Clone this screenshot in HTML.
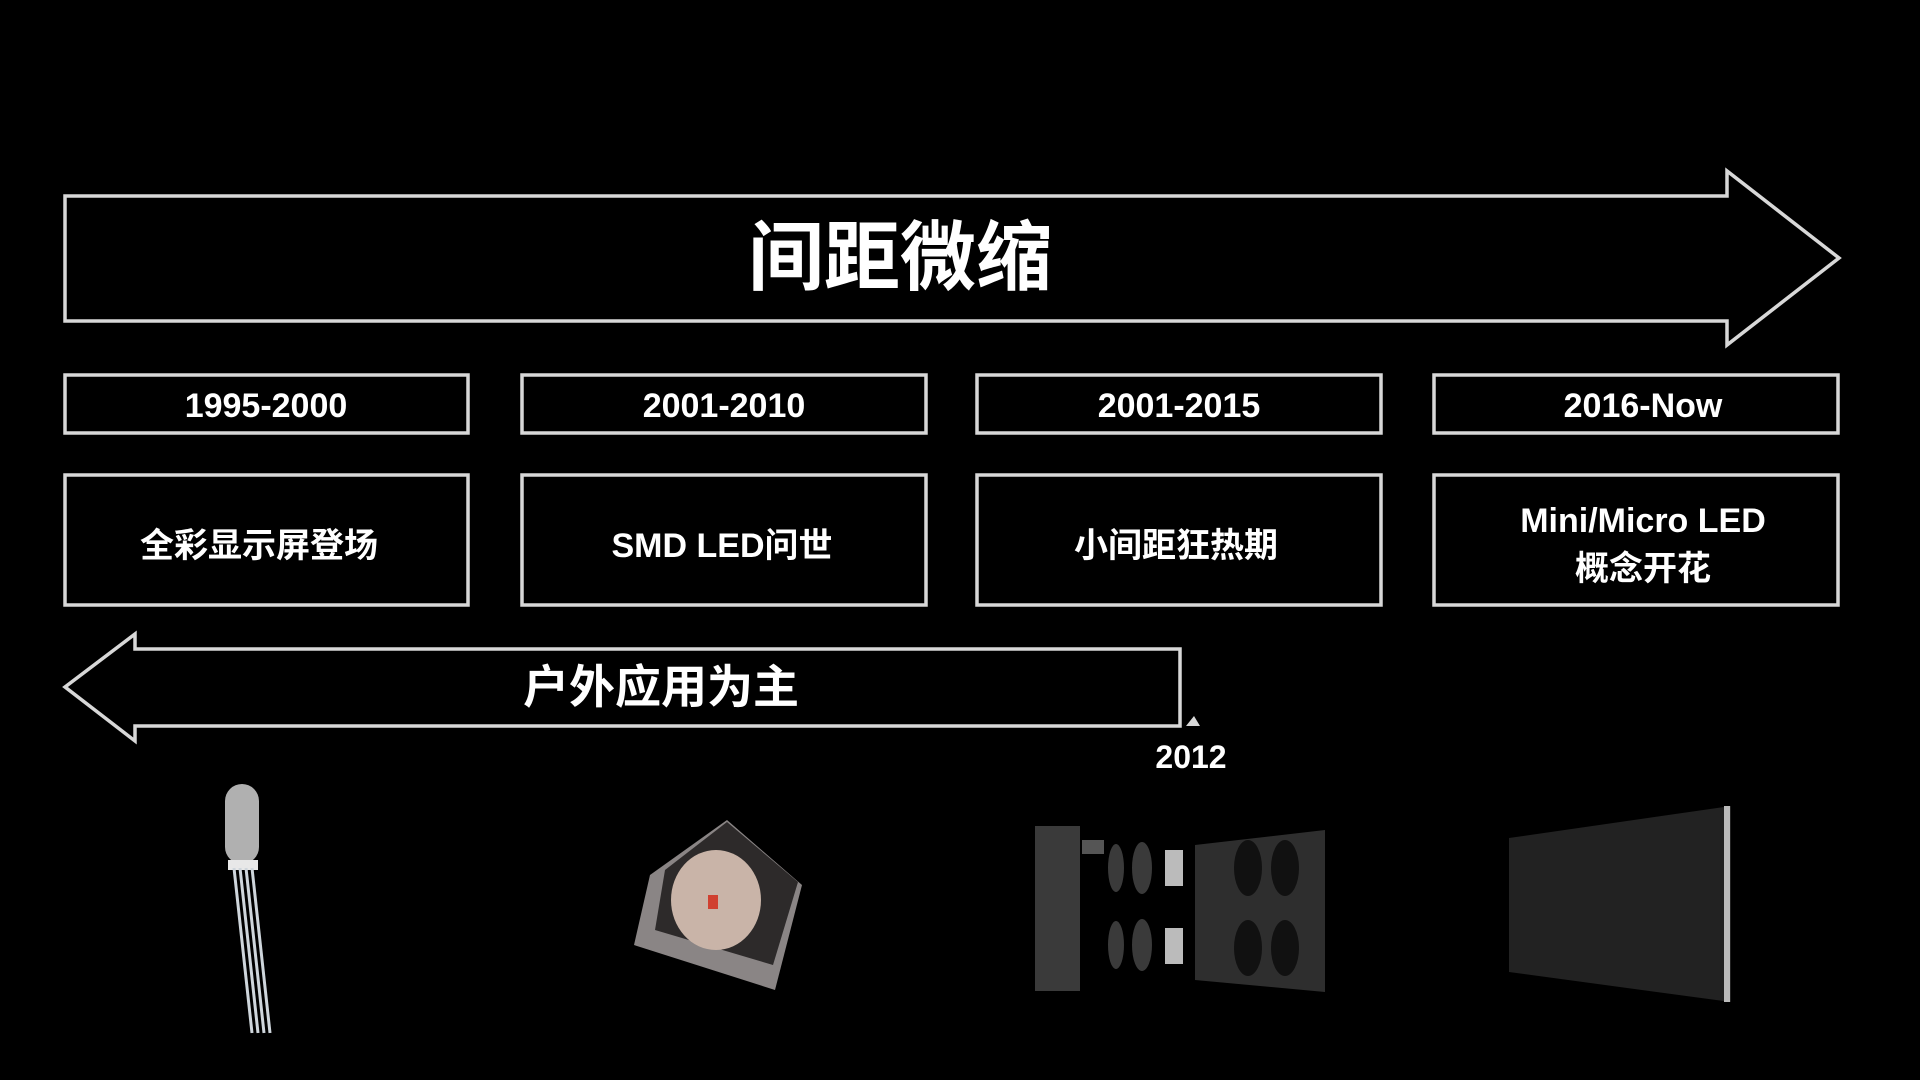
<!DOCTYPE html>
<html><head><meta charset="utf-8"><style>
html,body{margin:0;padding:0;background:#000;}
svg{display:block}
text{font-family:"Liberation Sans","Noto Sans CJK SC",sans-serif;fill:#fff;font-weight:bold}
</style></head><body>
<svg width="1920" height="1080" viewBox="0 0 1920 1080" xmlns="http://www.w3.org/2000/svg">
<rect width="1920" height="1080" fill="#000"/>
<g fill="none" stroke="#d8d8d8" stroke-width="3.5">
<polygon points="65,196 1727,196 1727,171 1839,258 1727,345 1727,321 65,321"/>
<rect x="65" y="375" width="403" height="58"/>
<rect x="522" y="375" width="404" height="58"/>
<rect x="977" y="375" width="404" height="58"/>
<rect x="1434" y="375" width="404" height="58"/>
<rect x="65" y="475" width="403" height="130"/>
<rect x="522" y="475" width="404" height="130"/>
<rect x="977" y="475" width="404" height="130"/>
<rect x="1434" y="475" width="404" height="130"/>
<polygon points="65,687 135,634 135,649 1180,649 1180,726 135,726 135,741"/>
</g>
<polygon points="1186,726 1194,716 1200,726" fill="#d8d8d8"/>
<text x="900" y="284" font-size="76" text-anchor="middle">间距微缩</text>
<g font-size="34" text-anchor="middle" font-weight="normal">
<text x="266" y="417">1995-2000</text>
<text x="724" y="417">2001-2010</text>
<text x="1179" y="417">2001-2015</text>
<text x="1643" y="417">2016-Now</text>
<text x="259" y="557">全彩显示屏登场</text>
<text x="722" y="557">SMD LED问世</text>
<text x="1176" y="557">小间距狂热期</text>
<text x="1643" y="532">Mini/Micro LED</text>
<text x="1643" y="580">概念开花</text>
<text x="1191" y="768" font-size="32">2012</text>
</g>
<text x="661" y="703" font-size="46" text-anchor="middle">户外应用为主</text>
<!-- LED -->
<rect x="225" y="784" width="34" height="80" rx="17" fill="#cfcfcf" opacity="0.85"/>
<rect x="228" y="860" width="30" height="10" fill="#e8e8e8"/>
<g stroke="#cfd6dc" stroke-width="3"><line x1="234" y1="868" x2="252" y2="1033"/><line x1="240" y1="868" x2="258" y2="1033"/><line x1="246" y1="868" x2="264" y2="1033"/><line x1="252" y1="868" x2="270" y2="1033"/></g>
<!-- SMD -->
<polygon points="727,820 802,885 775,990 634,945 650,875" fill="#8a8585"/>
<polygon points="727,822 798,882 773,965 655,930 665,870" fill="#2d2a2a"/>
<ellipse cx="716" cy="900" rx="45" ry="50" fill="#c9b4a8"/>
<rect x="708" y="895" width="10" height="14" fill="#d04030"/>
<!-- module -->
<rect x="1035" y="826" width="45" height="165" fill="#3a3a3a"/>
<rect x="1082" y="840" width="22" height="14" fill="#555"/>
<ellipse cx="1116" cy="868" rx="8" ry="24" fill="#3a3a3a"/><ellipse cx="1142" cy="868" rx="10" ry="26" fill="#3a3a3a"/>
<ellipse cx="1116" cy="945" rx="8" ry="24" fill="#3a3a3a"/><ellipse cx="1142" cy="945" rx="10" ry="26" fill="#3a3a3a"/>
<rect x="1165" y="850" width="18" height="36" fill="#bbb"/><rect x="1165" y="928" width="18" height="36" fill="#bbb"/>
<polygon points="1195,845 1325,830 1325,992 1195,980" fill="#2e2e2e"/>
<ellipse cx="1248" cy="868" rx="14" ry="28" fill="#111"/><ellipse cx="1285" cy="868" rx="14" ry="28" fill="#111"/>
<ellipse cx="1248" cy="948" rx="14" ry="28" fill="#111"/><ellipse cx="1285" cy="948" rx="14" ry="28" fill="#111"/>
<!-- panel -->
<polygon points="1509,838 1731,806 1731,1002 1509,972" fill="#222"/>
<rect x="1724" y="806" width="6" height="196" fill="#bbb"/>
</svg>
</body></html>
